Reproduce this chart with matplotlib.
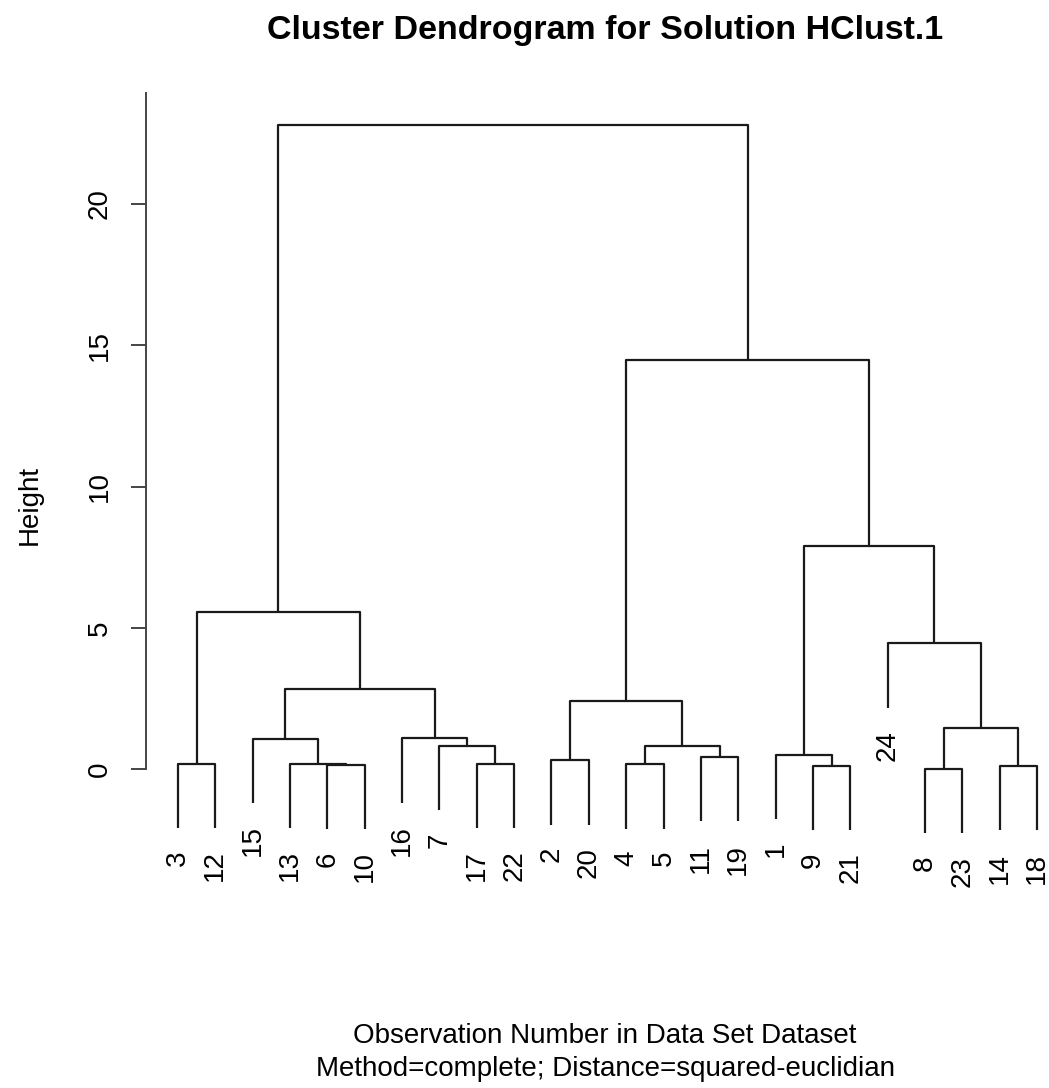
import matplotlib
matplotlib.use("Agg")
import matplotlib.pyplot as plt

plt.rcParams['font.family'] = ['Liberation Sans', 'DejaVu Sans']

# leaf order along the x axis (left to right)
leaf_order = [3, 12, 15, 13, 6, 10, 16, 7, 17, 22, 2, 20, 4, 5, 11, 19, 1, 9, 21, 24, 8, 23, 14, 18]

# merges, R style: negative = observation, positive = earlier merge step (1-based)
merge_left = [-3, -6, -13, -15, -17, -7, -16, 4, 1, -2, -4, -11, 11, 10, -9, -1, -8, -14, 17, -24, 16, 14, 9]
merge_right = [-12, -10, 2, 3, -22, 5, 6, 7, 8, -20, -5, -19, 12, 13, -21, 15, -23, -18, 18, 19, 20, 21, 22]
merge_height = [0.20, 0.16, 0.20, 1.08, 0.20, 0.84, 1.10, 2.83, 5.55, 0.32, 0.18, 0.44, 0.82,
                2.42, 0.12, 0.52, 0.01, 0.12, 1.46, 4.46, 7.89, 14.47, 22.78]

hang = 0.1 * max(merge_height)

W, H = 1049, 1088
fig = plt.figure(figsize=(W / 100, H / 100), dpi=100)
ax = fig.add_axes([146 / W, 1 - 840 / H, (W - 146) / W, (840 - 85) / H])

leaf_x = {lab: i + 1 for i, lab in enumerate(leaf_order)}
node_x = {}


def child_pos(c, h):
    # x and top y of a child node
    if c < 0:
        return leaf_x[-c], h - hang
    return node_x[c], merge_height[c - 1]


for k in range(len(merge_height)):
    h = merge_height[k]
    xl, yl = child_pos(merge_left[k], h)
    xr, yr = child_pos(merge_right[k], h)
    ax.plot([xl, xl, xr, xr], [yl, h, h, yr], color='#1a1a1a', lw=1.6, solid_capstyle='butt')
    node_x[k + 1] = (xl + xr) / 2
    for c, x, y in ((merge_left[k], xl, yl), (merge_right[k], xr, yr)):
        if c < 0:
            ax.annotate(str(-c), (x, y), xytext=(0, -16), textcoords='offset points',
                        rotation=90, ha='center', va='top', fontsize=20)

ax.set_xlim(1 - 32 / 37.35, 24 + 12 / 37.35)
ax.set_ylim(-2.5, 24.2)

for s in ['top', 'right', 'bottom']:
    ax.spines[s].set_visible(False)
ax.spines['left'].set_bounds(0, 23.9)
ax.spines['left'].set_color('#444444')
ax.spines['left'].set_linewidth(1.4)
ax.set_xticks([])
ax.set_yticks([0, 5, 10, 15, 20])
ax.tick_params(axis='y', length=11, width=1.4, color='#444444', pad=13, labelsize=20)
for t in ax.get_yticklabels():
    t.set_rotation(90)
    t.set_va('center')
ax.patch.set_visible(False)

fig.text(30 / W, 1 - 505 / H, 'Height', rotation=90, ha='center', va='center', fontsize=20)
fig.text(605 / W, 1 - 30 / H, 'Cluster Dendrogram for Solution HClust.1',
         ha='center', va='center', fontsize=24.5, fontweight='bold')
fig.text(605 / W, 1 - 1036 / H, 'Observation Number in Data Set Dataset',
         ha='center', va='center', fontsize=20)
fig.text(605 / W, 1 - 1069 / H, 'Method=complete; Distance=squared-euclidian',
         ha='center', va='center', fontsize=20)

fig.savefig('out.png', dpi=100)
